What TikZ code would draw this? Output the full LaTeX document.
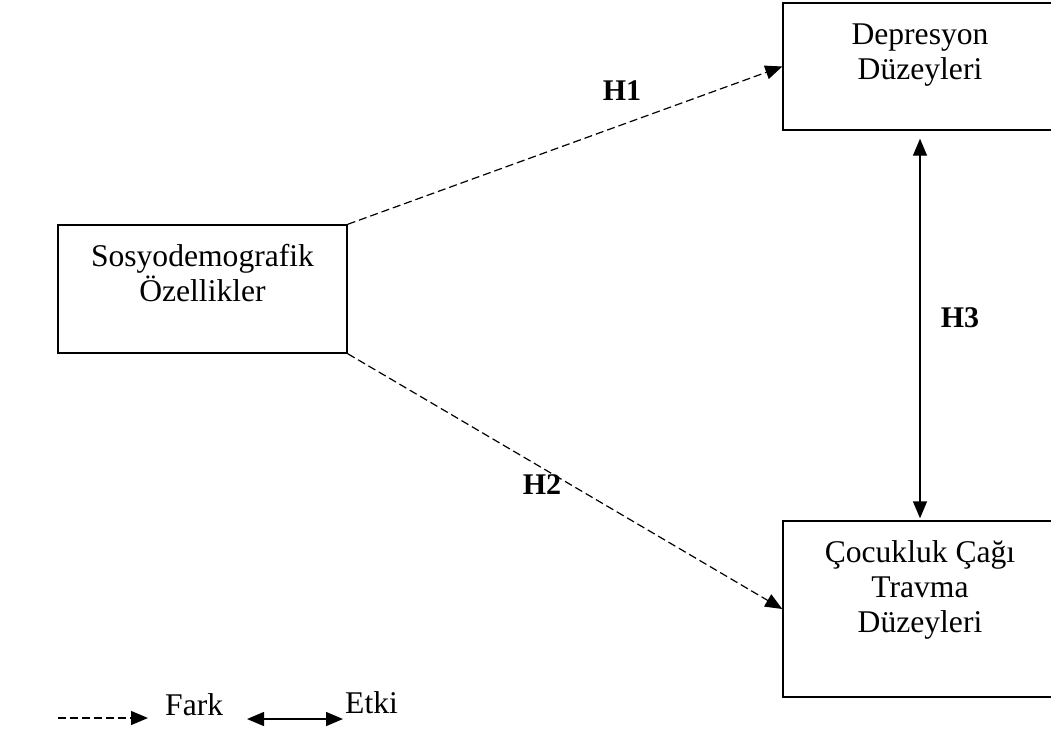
\documentclass[tikz,border=0pt]{standalone}
\usepackage{fontspec}
\setmainfont{Liberation Serif}
\usetikzlibrary{arrows.meta,positioning}

\begin{document}
\begin{tikzpicture}[x=1pt, y=-1pt,
  box/.style={draw=black, line width=1.4pt, inner sep=0pt},
  lbl/.style={font=\fontsize{31.6}{35}\selectfont, align=center, inner sep=0pt},
  hyp/.style={font=\fontsize{30}{34}\selectfont\bfseries, inner sep=0pt},
  fark/.style={-{Triangle[length=17pt,width=14pt]}, line width=1.2pt, dash pattern=on 8pt off 4pt},
  etki/.style={{Triangle[length=17pt,width=14pt]}-{Triangle[length=17pt,width=14pt]}, line width=1.4pt}]
  \useasboundingbox[fill=white] (0,0) rectangle (1051,729);

  % variable boxes
  \node[box, minimum width=289pt, minimum height=128pt] (soc) at (202.5,289) {};
  \node[box, minimum width=274pt, minimum height=127pt] (dep) at (920,66.5) {};
  \node[box, minimum width=274pt, minimum height=176pt] (trav) at (920,609) {};
  \node[lbl, anchor=base] (socT) at ([yshift=-77pt]soc.north) {Sosyodemografik\\Özellikler};
  \node[lbl, anchor=base] (depT) at ([yshift=-77pt]dep.north) {Depresyon\\Düzeyleri};
  \node[lbl, anchor=base] (travT) at ([yshift=-112pt]trav.north) {Çocukluk Çağı\\Travma\\Düzeyleri};

  % hypotheses
  \draw[fark] (soc.north east) -- (dep.west);
  \draw[fark] (soc.south east) -- (trav.west);
  \draw[etki, shorten >=2pt] ([yshift=-8pt]dep.south) -- (trav.north);
  \node[hyp] (h1) at (622,91) {H1};
  \node[hyp] (h2) at (542,485) {H2};
  \node[hyp] (h3) at (960,318) {H3};

  % legend
  \coordinate (f0) at (58,718);
  \coordinate (f1) at (148,718);
  \draw[fark] (f0) -- (f1);
  \node[lbl, anchor=base west] (farkT) at (165,715) {Fark};
  \coordinate (e0) at (247,719);
  \coordinate (e1) at (343,719);
  \draw[etki] (e0) -- (e1);
  \node[lbl, anchor=base west] (etkiT) at (345,713) {Etki};
\end{tikzpicture}
\end{document}
